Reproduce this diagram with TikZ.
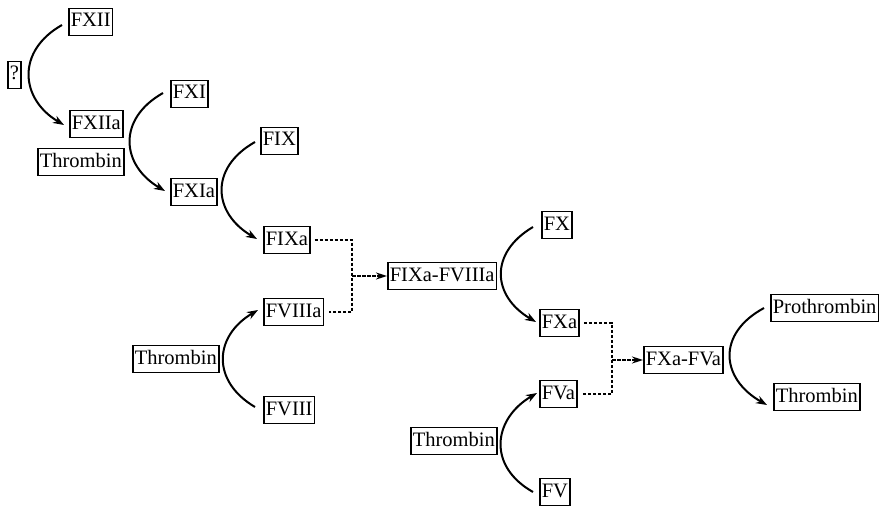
\documentclass[tikz,border=0pt]{standalone}
\usepackage{fontspec}
\setmainfont{Liberation Serif}
\usetikzlibrary{arrows.meta,calc}
\begin{document}
\begin{tikzpicture}[x=1pt,y=-1pt,
  box/.style={draw, line width=1.6pt, font=\fontsize{20.5}{24}\selectfont,
    inner xsep=2pt, inner ysep=4.5pt, text height=14pt, text depth=4pt, anchor=west},
  arc/.style={line width=2pt, -{Stealth[length=11pt,width=8pt]}},
  dline/.style={line width=1.8pt, dash pattern=on 3.5pt off 1.5pt},
  darr/.style={dline, -{Stealth[length=11pt,width=7pt]}}]
\useasboundingbox (0,0) rectangle (883,508);
% nodes
\node[box] (fxii) at (68,22) {FXII};
\node[box] (q) at (7,75) {?};
\node[box] (fxiia) at (69,124) {FXIIa};
\node[box] (thr1) at (37,162) {Thrombin};
\node[box] (fxi) at (170,94) {FXI};
\node[box] (fxia) at (170,192) {FXIa};
\node[box] (fix) at (260,141) {FIX};
\node[box] (fixa) at (263,240) {FIXa};
\node[box] (fviiia) at (263,312) {FVIIIa};
\node[box] (thr2) at (132,359) {Thrombin};
\node[box] (fviii) at (263,410) {FVIII};
\node[box] (fixafviiia) at (387,276) {FIXa-FVIIIa};
\node[box] (fx) at (541,225) {FX};
\node[box] (fxa) at (539,323) {FXa};
\node[box] (fva) at (539,394) {FVa};
\node[box] (thr3) at (410,441) {Thrombin};
\node[box] (fv) at (539,492) {FV};
\node[box] (fxafva) at (643,360) {FXa-FVa};
\node[box] (pro) at (770,308) {Prothrombin};
\node[box] (thr4) at (773,397) {Thrombin};
% activation arcs (downward)
\draw[arc] ($(fxii.west)+(-6,3)$) .. controls +(-46,26) and +(-44,-26) .. ($(fxiia.west)+(-5,1)$);
\draw[arc] ($(fxi.west)+(-7,-1)$) .. controls +(-46,26) and +(-44,-26) .. ($(fxia.west)+(-5,-1)$);
\draw[arc] ($(fix.west)+(-5,1)$) .. controls +(-46,26) and +(-44,-26) .. ($(fixa.west)+(-6,-1)$);
\draw[arc] ($(fx.west)+(-8,2)$) .. controls +(-44,26) and +(-44,-26) .. ($(fxa.west)+(-3,-1)$);
\draw[arc] ($(pro.west)+(-6,0)$) .. controls +(-48,26) and +(-46,-26) .. ($(thr4.west)+(-6,8)$);
% activation arcs (upward)
\draw[arc] ($(fviii.west)+(-8,-3)$) .. controls +(-44,-26) and +(-44,26) .. ($(fviiia.west)+(-5,-2)$);
\draw[arc] ($(fv.west)+(-6,0)$) .. controls +(-46,-26) and +(-44,26) .. ($(fva.west)+(-2,-1)$);
% complexes
\coordinate (j1) at (352,276);
\draw[dline] ($(fixa.east)+(4,0)$) -- (j1 |- fixa.east) -- (j1 |- fviiia.east) -- ($(fviiia.east)+(5,0)$);
\draw[darr] (j1) -- (fixafviiia.west);
\coordinate (j2) at (612,360);
\draw[dline] ($(fxa.east)+(4,0)$) -- (j2 |- fxa.east) -- (j2 |- fva.east) -- ($(fva.east)+(5,0)$);
\draw[darr] (j2) -- (fxafva.west);
\end{tikzpicture}
\end{document}
